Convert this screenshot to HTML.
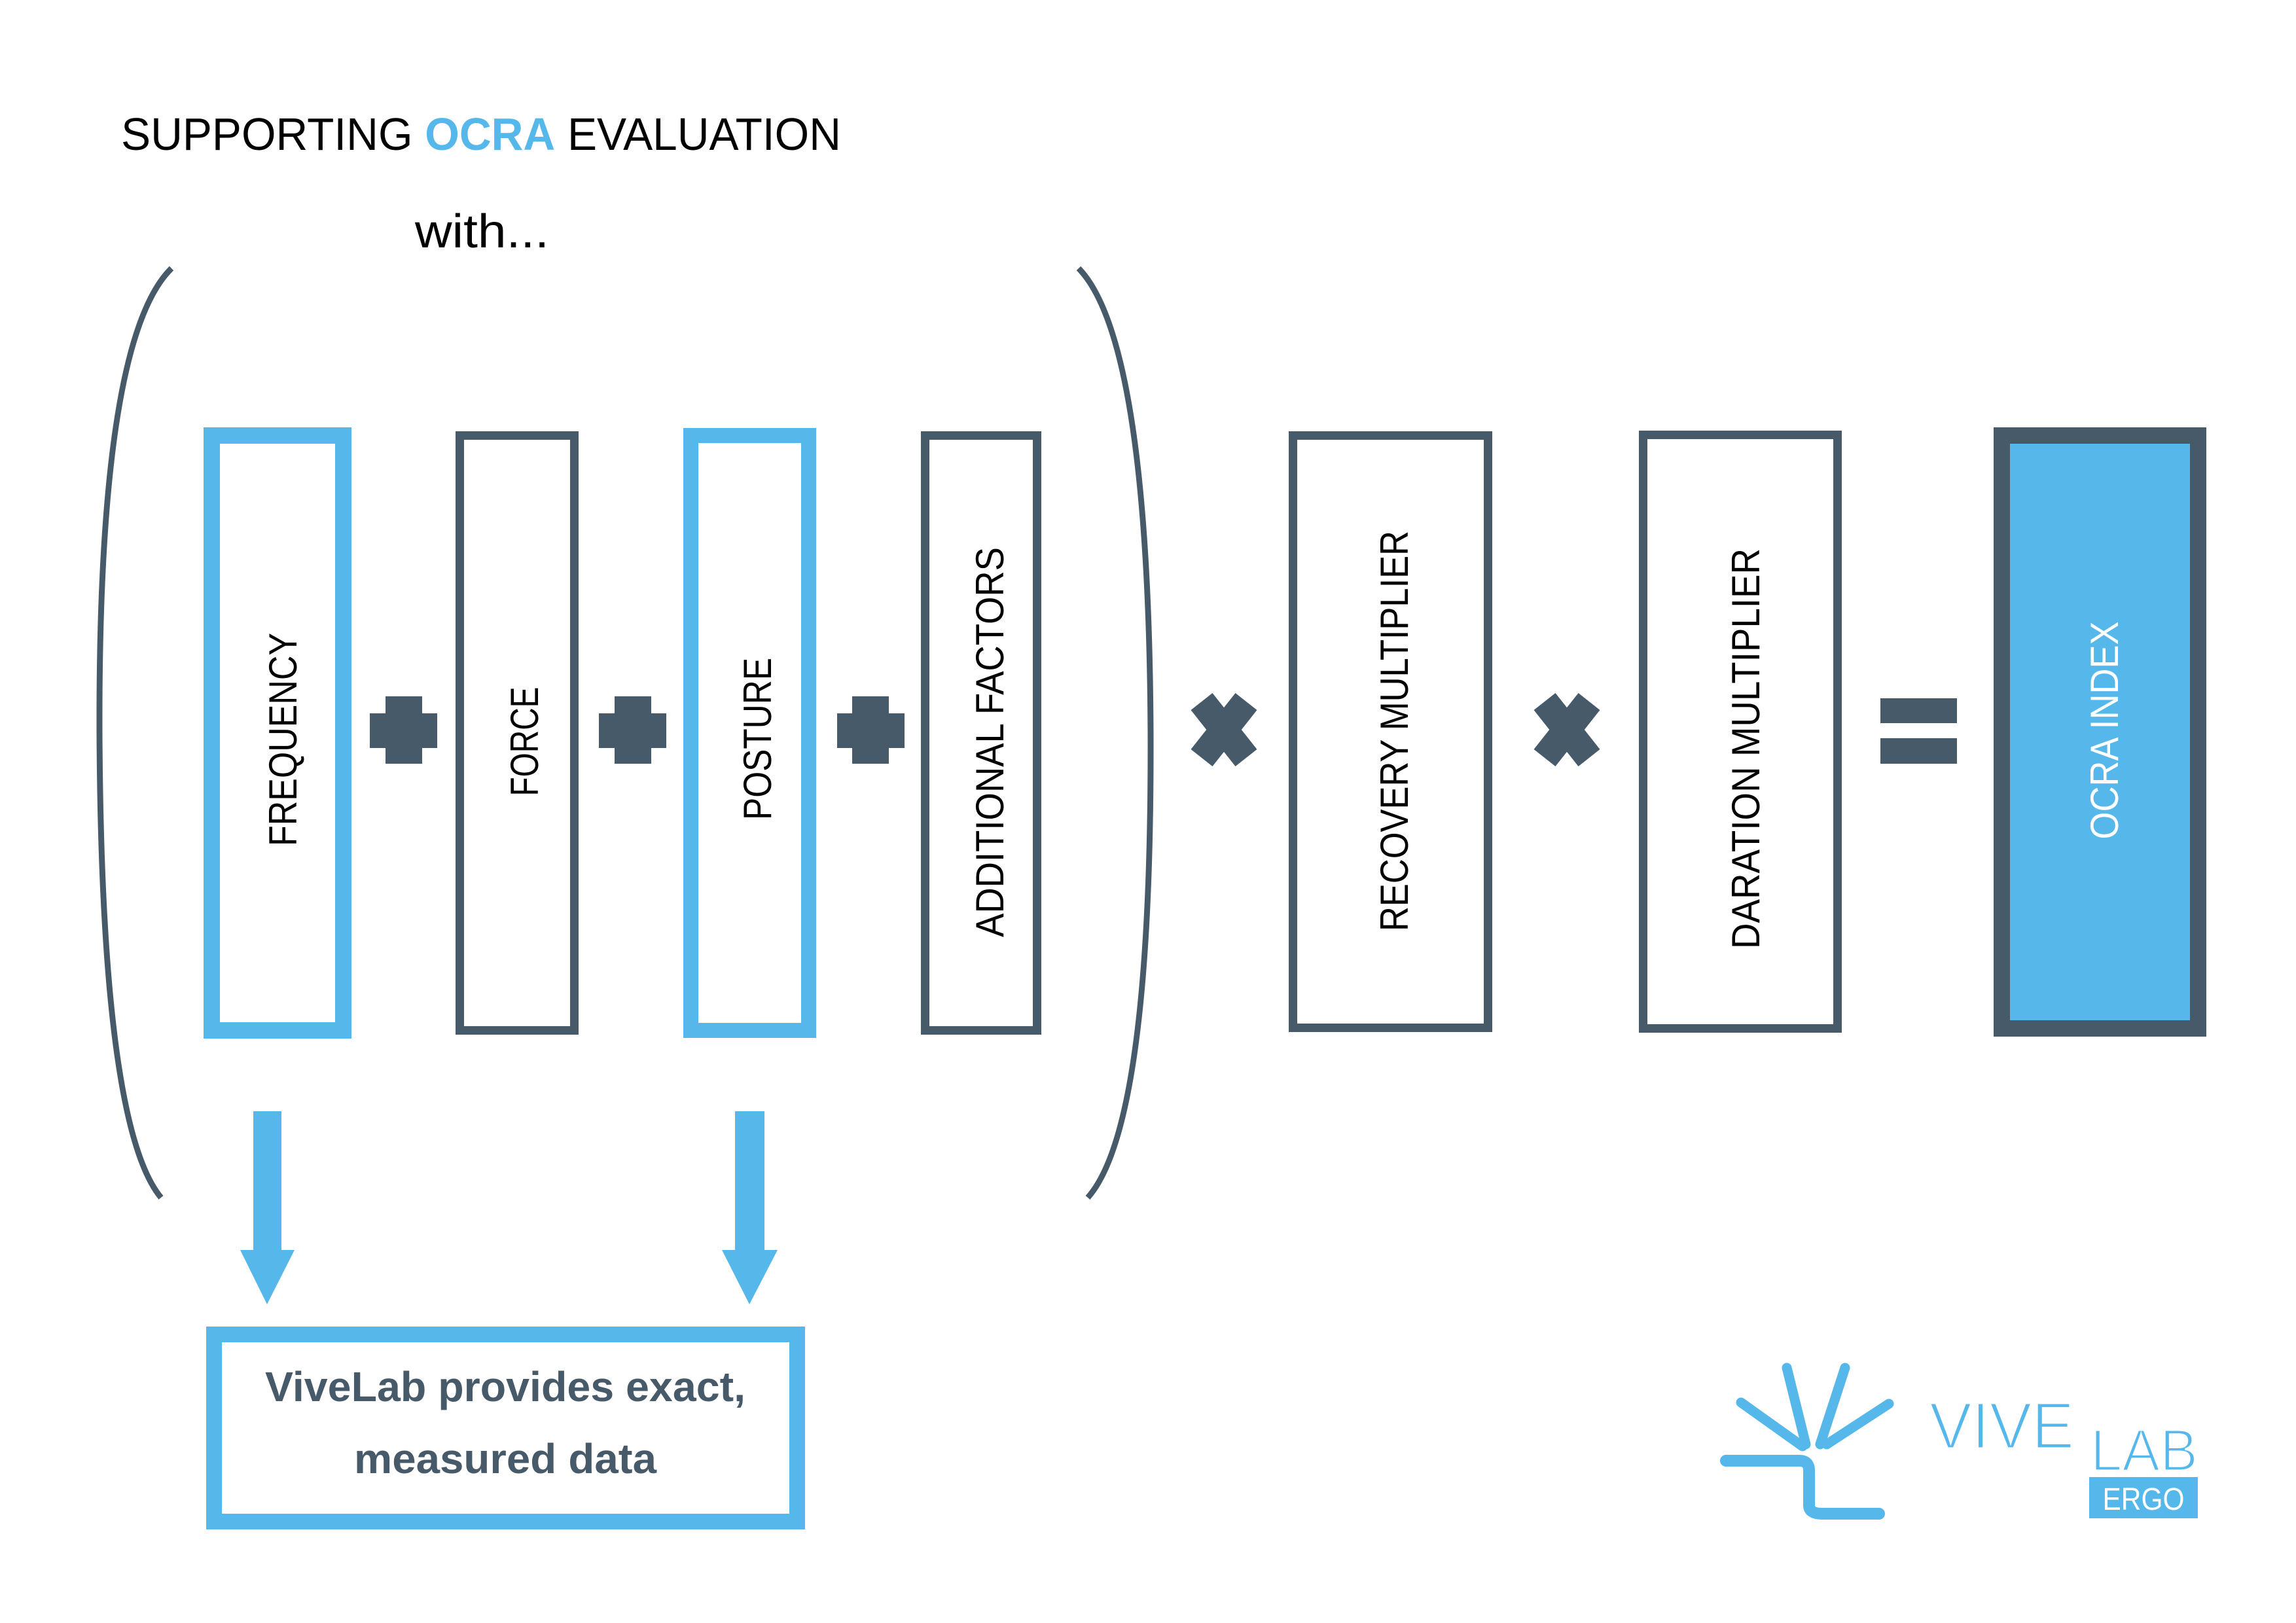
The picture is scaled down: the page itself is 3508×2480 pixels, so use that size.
<!DOCTYPE html>
<html><head><meta charset="utf-8"><style>
html,body{margin:0;padding:0;background:#fff;}
svg{display:block;}
text{font-family:"Liberation Sans",sans-serif;}
</style></head><body>
<svg width="3508" height="2480" viewBox="0 0 3508 2480" xmlns="http://www.w3.org/2000/svg">
<rect width="3508" height="2480" fill="#fff"/>
<text x="185" y="229" font-size="70" fill="#000" textLength="1100" lengthAdjust="spacingAndGlyphs">SUPPORTING <tspan fill="#55b7ea" font-weight="bold">OCRA</tspan> EVALUATION</text>
<text x="634" y="378" font-size="72" fill="#000" textLength="205" lengthAdjust="spacingAndGlyphs">with...</text>

<path d="M262 410 Q150 520 152 1120 Q155 1720 246 1830" fill="none" stroke="#475a6a" stroke-width="9"/>
<path d="M1648 410 Q1755 520 1758 1120 Q1760 1720 1662 1830" fill="none" stroke="#475a6a" stroke-width="9"/>

<rect x="323.5" y="665.5" width="201" height="909" fill="#fff" stroke="#55b7ea" stroke-width="25"/>
<rect x="702.5" y="665.5" width="175" height="909" fill="#fff" stroke="#475a6a" stroke-width="13"/>
<rect x="1055.5" y="665.5" width="180" height="909" fill="#fff" stroke="#55b7ea" stroke-width="23"/>
<rect x="1413.5" y="665.5" width="171" height="909" fill="#fff" stroke="#475a6a" stroke-width="13"/>
<rect x="1975.5" y="665.5" width="298" height="905" fill="#fff" stroke="#475a6a" stroke-width="13"/>
<rect x="2510.5" y="664.5" width="297" height="907" fill="#fff" stroke="#475a6a" stroke-width="13"/>
<rect x="3058.5" y="665.5" width="300" height="906" fill="#55b7ea" stroke="#475a6a" stroke-width="25"/>

<g font-size="60" fill="#000">
<text transform="translate(453,1130) rotate(-90)" text-anchor="middle" textLength="326" lengthAdjust="spacingAndGlyphs">FREQUENCY</text>
<text transform="translate(822,1133) rotate(-90)" text-anchor="middle" textLength="167" lengthAdjust="spacingAndGlyphs">FORCE</text>
<text transform="translate(1178,1129) rotate(-90)" text-anchor="middle" textLength="248" lengthAdjust="spacingAndGlyphs">POSTURE</text>
<text transform="translate(1533,1134) rotate(-90)" text-anchor="middle" textLength="596" lengthAdjust="spacingAndGlyphs">ADDITIONAL FACTORS</text>
<text transform="translate(2151,1117) rotate(-90)" text-anchor="middle" textLength="612" lengthAdjust="spacingAndGlyphs">RECOVERY MULTIPLIER</text>
<text transform="translate(2688,1144) rotate(-90)" text-anchor="middle" textLength="612" lengthAdjust="spacingAndGlyphs">DARATION MULTIPLIER</text>
<text transform="translate(3236,1116) rotate(-90)" text-anchor="middle" textLength="333" lengthAdjust="spacingAndGlyphs" fill="#fff">OCRA INDEX</text>
</g>

<g fill="#475a6a">
<rect x="589" y="1064" width="56" height="103"/><rect x="565" y="1090" width="103" height="53"/>
<rect x="939" y="1064" width="56" height="103"/><rect x="915" y="1090" width="103" height="53"/>
<rect x="1302" y="1064" width="56" height="103"/><rect x="1279" y="1090" width="103" height="53"/>
</g>
<g stroke="#475a6a" stroke-width="42">
<line x1="1836" y1="1072" x2="1904" y2="1158"/><line x1="1904" y1="1072" x2="1836" y2="1158"/>
<line x1="2360" y1="1072" x2="2428" y2="1158"/><line x1="2428" y1="1072" x2="2360" y2="1158"/>
</g>
<rect x="2873" y="1067" width="117" height="38" fill="#475a6a"/>
<rect x="2873" y="1128" width="117" height="39" fill="#475a6a"/>

<g fill="#55b7ea">
<rect x="387" y="1698" width="43" height="214"/><polygon points="367,1910 450,1910 408,1993"/>
<rect x="1123" y="1698" width="45" height="214"/><polygon points="1103,1910 1188,1910 1145,1993"/>
</g>

<rect x="327" y="2039" width="891" height="286" fill="#fff" stroke="#55b7ea" stroke-width="24"/>
<g font-size="64" font-weight="bold" fill="#475a6a" text-anchor="middle">
<text x="772" y="2141" textLength="734" lengthAdjust="spacingAndGlyphs">ViveLab provides exact,</text>
<text x="772" y="2251" textLength="462" lengthAdjust="spacingAndGlyphs">measured data</text>
</g>

<g stroke="#55b7ea" stroke-width="15" stroke-linecap="round" fill="none">
<line x1="2660" y1="2143" x2="2754" y2="2210"/>
<line x1="2730" y1="2090" x2="2759" y2="2207"/>
<line x1="2819" y1="2090" x2="2781" y2="2207"/>
<line x1="2886" y1="2145" x2="2791" y2="2207"/>
<path d="M2637 2232 L2749 2232 Q2764 2232 2764 2247 L2764 2300 Q2764 2313 2784 2313 L2871 2313" stroke-width="18"/>
</g>
<text x="2948" y="2213" font-size="100" fill="#55b7ea" stroke="#fff" stroke-width="3" textLength="221" lengthAdjust="spacingAndGlyphs">VIVE</text>
<text x="3194" y="2247" font-size="90" fill="#55b7ea" stroke="#fff" stroke-width="3" textLength="164" lengthAdjust="spacingAndGlyphs">LAB</text>
<rect x="3192" y="2257" width="166" height="63" fill="#55b7ea"/>
<text x="3275" y="2307" font-size="48" fill="#fff" text-anchor="middle" textLength="125" lengthAdjust="spacingAndGlyphs">ERGO</text>
</svg>
</body></html>
